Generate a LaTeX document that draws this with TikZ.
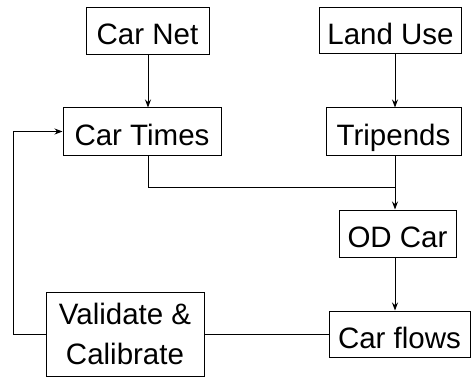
\documentclass[tikz,border=0pt]{standalone}
\usepackage{fontspec}
\setmainfont{Liberation Sans}
\usetikzlibrary{arrows.meta, positioning}

\tikzset{
    box/.style={draw, line width=1pt, inner sep=0pt, align=center,
        font=\fontsize{29.5}{40}\selectfont},
    oneline/.style={box, text height=28pt, text depth=0pt},
}

\begin{document}
\begin{tikzpicture}[x=1pt, y=1pt, line width=1pt, >={Stealth[length=8pt, width=6pt]}]
    \useasboundingbox (0, 0) rectangle (471, -377);

    \node[oneline, minimum width=123pt, minimum height=47pt] (carnet) at (147.5, -31) {Car Net};
    \node[oneline, minimum width=142pt, minimum height=46pt] (landuse) at (390.5, -31) {Land Use};
    \node[oneline, minimum width=158pt, minimum height=47pt] (cartimes) at (142, -131.5) {Car Times};
    \node[oneline, minimum width=135pt, minimum height=47pt] (tripends) at (393.5, -131.5) {Tripends};
    \node[oneline, minimum width=117pt, minimum height=47pt] (odcar) at (397.5, -233.5) {OD Car};
    \node[oneline, minimum width=141pt, minimum height=46pt] (carflows) at (399.5, -334) {Car flows};
    \node[box, minimum width=158pt, minimum height=84pt] (validate) at (125, -334) {Validate \&\\Calibrate};

    \coordinate (leftcol) at (148, 0);
    \coordinate (merge) at (395, -187);
    \coordinate (loop) at (13, -334);

    \draw
    (carnet.south -| leftcol) edge[->] (cartimes.north -| leftcol)
    (landuse.south -| merge) edge[->] (tripends.north -| merge)
    (tripends.south -| merge) edge[->] (odcar.north -| merge)
    (odcar.south -| merge) edge[->] (carflows.north -| merge);
    \draw (cartimes.south -| leftcol) |- (merge);
    \draw (validate.east) -- (carflows.west);
    \draw[->] (validate.west) -- (loop) |- (cartimes.west);
\end{tikzpicture}
\end{document}
